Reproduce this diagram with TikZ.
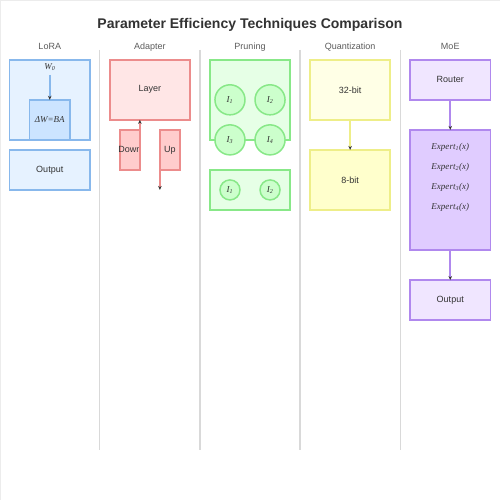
\documentclass[tikz,border=0pt]{standalone}
\usepackage{fontspec}
\setmainfont{Liberation Sans}
\newfontfamily\mathserif{Liberation Serif}
\usetikzlibrary{arrows.meta}
\definecolor{loraline}{HTML}{88B8EC}
\definecolor{lorafill}{HTML}{E6F2FF}
\definecolor{loradark}{HTML}{CCE4FF}
\definecolor{adline}{HTML}{EC8C8C}
\definecolor{adfill}{HTML}{FFE6E6}
\definecolor{addark}{HTML}{FFCCCC}
\definecolor{prline}{HTML}{88E888}
\definecolor{prfill}{HTML}{E6FFE6}
\definecolor{prdark}{HTML}{CCFFCC}
\definecolor{qline}{HTML}{EEEE88}
\definecolor{qfill}{HTML}{FFFFE6}
\definecolor{qdark}{HTML}{FFFFCC}
\definecolor{moeline}{HTML}{B088EE}
\definecolor{moefill}{HTML}{F0E6FF}
\definecolor{moedark}{HTML}{E0CCFF}
\definecolor{ink}{HTML}{333333}
\newcommand{\mvar}[1]{{\mathserif\itshape #1}}
\begin{document}
\begin{tikzpicture}[x=1pt,y=-1pt,>={Stealth[length=4pt,width=3.5pt,color=ink]},
    every node/.style={text=ink,font=\fontsize{9}{10}\selectfont,inner sep=0pt},
    box/.style={draw,line width=1.5pt,outer sep=0pt,minimum width=80pt,minimum height=#1},
    box/.default=40pt,
    link/.style={line width=1.5pt,->},
    head/.style={font=\fontsize{9}{10}\selectfont,text=ink!80},
    sep/.style={draw=gray!30,line width=1.2pt}]
  \draw[gray!15,fill=white] (0.5,0.5) rectangle (499.5,499.5);
  \node[font=\bfseries\fontsize{14}{16}\selectfont] (title) at (250,25)
    {Parameter Efficiency Techniques Comparison};
  % column headers
  \foreach \x/\t in {50/LoRA,150/Adapter,250/Pruning,350/Quantization,450/MoE}
    \node[head] at (\x,47) {\t};
  \foreach \x in {100,200,300,400}
    \draw[sep] (\x,50) -- (\x,450);
  % LoRA
  \node[box=80pt,draw=loraline,fill=lorafill] (lora) at (50,100) {};
  \node (w0) at (50,67) {\mvar{W\textsubscript{0}}};
  \node[box=40pt,minimum width=40pt,draw=loraline,fill=loradark] (dw) at (50,120)
    {\mvar{ΔW=BA}};
  \draw[loraline,link] (50,75) -- (dw.north);
  \node[box,draw=loraline,fill=lorafill] (lout) at (50,170) {Output};
  % Adapter
  \node[box=60pt,draw=adline,fill=adfill] (layer) at (150,90) {Layer};
  \node[box,minimum width=20pt,draw=adline,fill=addark] (down) at (130,150) {};
  \node at (down) {Down};
  \node[box,minimum width=20pt,draw=adline,fill=addark] (up) at (170,150) {Up};
  \coordinate (upout) at (160,190);
  \draw[adline,link] (down.south east) -- (layer.south -| down.east);
  \draw[adline,link] (up.north west) -- (upout);
  % Pruning
  \node[box=80pt,draw=prline,fill=prfill] (dense) at (250,100) {};
  \foreach \n/\x/\y/\i in {a/230/100/1,b/270/100/2,c/230/140/3,d/270/140/4}
    \node[circle,draw=prline,fill=prdark,line width=1.5pt,minimum size=30pt]
      (\n) at (\x,\y) {\mvar{I\textsubscript{\i}}};
  \node[box,draw=prline,fill=prfill] (sparse) at (250,190) {};
  \foreach \n/\x/\i in {e/230/1,f/270/2}
    \node[circle,draw=prline,fill=prdark,line width=1.5pt,minimum size=20pt]
      (\n) at (\x,190) {\mvar{I\textsubscript{\i}}};
  % Quantization
  \node[box=60pt,draw=qline,fill=qfill] (q32) at (350,90) {32-bit};
  \node[box=60pt,draw=qline,fill=qdark] (q8) at (350,180) {8-bit};
  \draw[qline,link] (q32) -- (q8);
  % MoE
  \node[box,draw=moeline,fill=moefill] (router) at (450,80) {Router};
  \node[box=120pt,draw=moeline,fill=moedark] (experts) at (450,190) {};
  \foreach \i in {1,...,4}
    \node (ex\i) at (450,127+20*\i) {\mvar{Expert\textsubscript{\i}(x)}};
  \node[box,draw=moeline,fill=moefill] (mout) at (450,300) {Output};
  \draw[moeline,link] (router) -- (experts);
  \draw[moeline,link] (experts) -- (mout);
\end{tikzpicture}
\end{document}
